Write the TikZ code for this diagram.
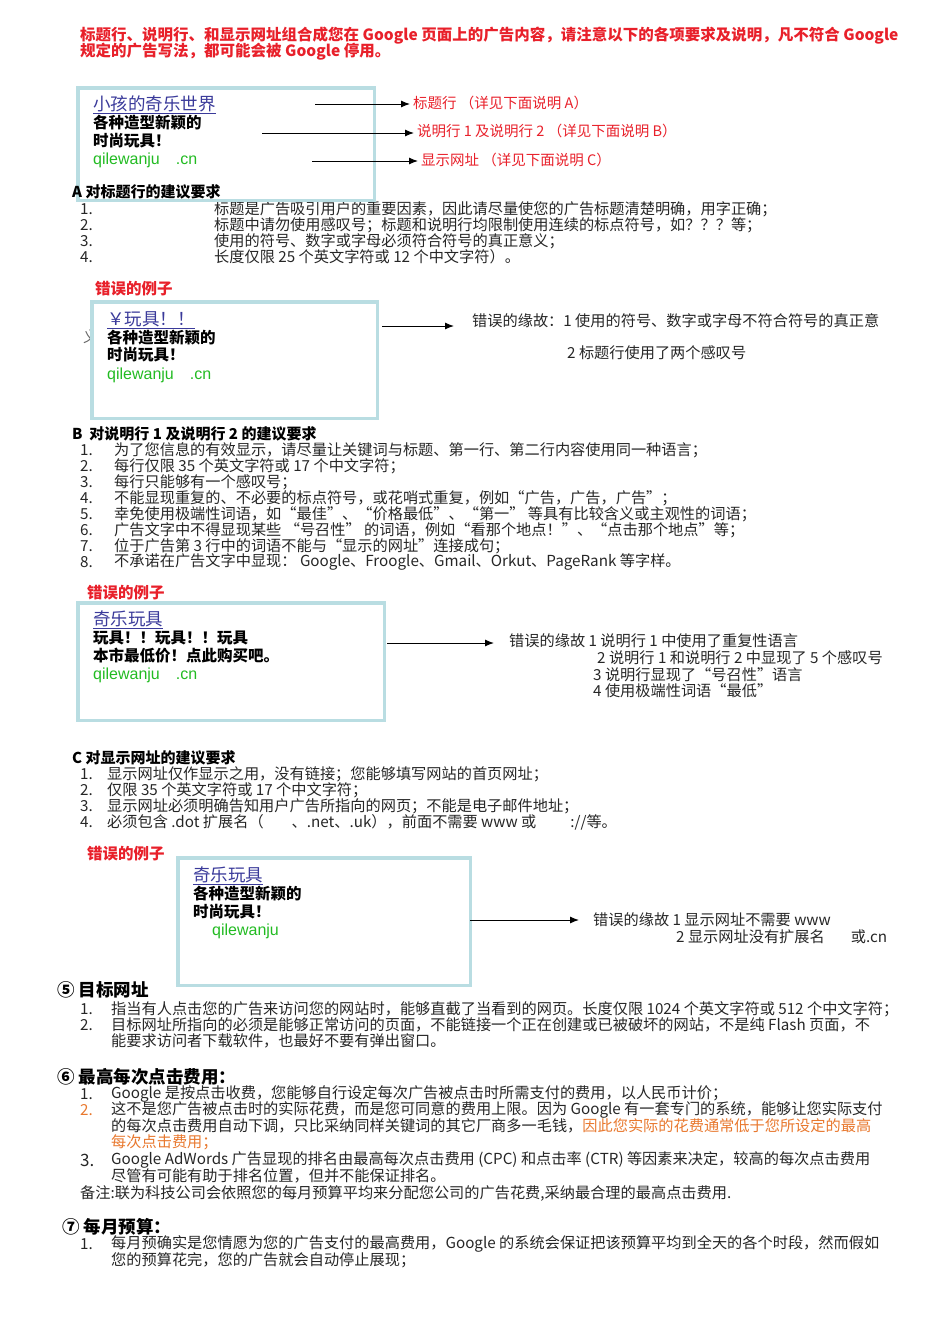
\documentclass[tikz,border=0pt]{standalone}
\usepackage{fontspec}
\usetikzlibrary{arrows.meta}
\setmainfont{Noto Sans CJK SC}
\newfontfamily\lsans{Liberation Sans}
\definecolor{bx}{HTML}{B9DDE2}
\definecolor{rd}{HTML}{E8202A}
\definecolor{og}{HTML}{E8782E}
\definecolor{bl}{HTML}{3A3A9A}
\definecolor{gn}{HTML}{22BB22}
\tikzset{
 t/.style={anchor=west,inner sep=0,text=black!85,font=\fontsize{15.2}{16}\selectfont},
 h/.style={anchor=west,inner sep=0,text=rd,font=\bfseries\fontsize{15.5}{16}\selectfont},
 lab/.style={anchor=west,inner sep=0,text=rd,font=\fontsize{14.5}{16}\selectfont},
 sec/.style={anchor=west,inner sep=0,font=\bfseries\fontsize{15}{16}\selectfont},
 big/.style={anchor=west,inner sep=0,font=\bfseries\fontsize{17.5}{20}\selectfont},
 ttl/.style={anchor=west,inner sep=0,text=bl,font=\fontsize{17.5}{20}\selectfont},
 ln/.style={anchor=west,inner sep=0,font=\bfseries\fontsize{15.5}{18}\selectfont},
 url/.style={anchor=west,inner sep=0,text=gn,font=\lsans\fontsize{16}{18}\selectfont},
 adbox/.style={draw=bx,line width=3.5pt},
 arr/.style={-{Latex[length=9pt,width=7pt]},line width=1pt,shorten >=3pt}
}
\begin{document}
\begin{tikzpicture}[x=1pt,y=-1pt]
\useasboundingbox (0,0) rectangle (950,1344);
\node[h] (h1) at (80,36) {标题行、说明行、和显示网址组合成您在 Google 页面上的广告内容，请注意以下的各项要求及说明，凡不符合 Google};
\node[h] (h2) at (80,52) {规定的广告写法，都可能会被 Google 停用。};
% section A
\node[t] (a1n) at (80,209) {1.}; \node[t] (a1) at (214,209) {标题是广告吸引用户的重要因素，因此请尽量使您的广告标题清楚明确，用字正确；};
\node[t] (a2n) at (80,225) {2.}; \node[t] (a2) at (214,225) {标题中请勿使用感叹号；标题和说明行均限制使用连续的标点符号，如？？？等；};
\node[t] (a3n) at (80,241) {3.}; \node[t] (a3) at (214,241) {使用的符号、数字或字母必须符合符号的真正意义；};
\node[t] (a4n) at (80,257) {4.}; \node[t] (a4) at (214,257) {长度仅限 25 个英文字符或 12 个中文字符）。};
% box 1
\node[minimum width=296pt,minimum height=112pt,anchor=north west,inner sep=0] (b1) at (78,88) {};
\draw[adbox] (b1.north west) rectangle (b1.south east);
\node[sec] (sa) at (72,192) {A 对标题行的建议要求};
\node[ttl] (b1t) at (93,105) {\underline{小孩的奇乐世界}};
\node[ln] (b1a) at (93,123) {各种造型新颖的};
\node[ln] (b1b) at (93,141) {时尚玩具！};
\node[url] (b1u) at (93,160) {qilewanju\quad .cn};
\node[lab] (l1) at (413,103) {标题行 （详见下面说明 A）};
\node[lab] (l2) at (417,131) {说明行 1 及说明行 2 （详见下面说明 B）};
\node[lab] (l3) at (421,160) {显示网址 （详见下面说明 C）};
\coordinate (s1) at (315,104); \coordinate (s2) at (262,133); \coordinate (s3) at (312,161);
\draw[arr] (s1) -- (l1.west|-s1);
\draw[arr] (s2) -- (l2.west|-s2);
\draw[arr] (s3) -- (l3.west|-s3);
% example 1
\node[h] (e1) at (95,289) {错误的例子};
\node[t,text=black!60] (yi) at (83,337) {义};
\node[fill=white,minimum width=285pt,minimum height=116pt,anchor=north west,inner sep=0] (b2) at (92,302) {};
\draw[adbox] (b2.north west) rectangle (b2.south east);
\node[ttl] (b2t) at (107,320) {\underline{￥玩具！！}};
\node[ln] (b2a) at (107,338) {各种造型新颖的};
\node[ln] (b2b) at (107,355) {时尚玩具！};
\node[url] (b2u) at (107,375) {qilewanju\quad .cn};
\node[t] (r1a) at (472,321) {错误的缘故：1 使用的符号、数字或字母不符合符号的真正意};
\node[t] (r1b) at (567,353) {2 标题行使用了两个感叹号};
\coordinate (s4) at (382,326);
\draw[arr] (s4) -- (457,326);
% section B
\node[sec] (sb) at (72,434) {B\ \ 对说明行 1 及说明行 2 的建议要求};
\node[t] (bn1) at (80,450) {1.}; \node[t] (bt1) at (114,450) {为了您信息的有效显示，请尽量让关键词与标题、第一行、第二行内容使用同一种语言；};
\node[t] (bn2) at (80,466) {2.}; \node[t] (bt2) at (114,466) {每行仅限 35 个英文字符或 17 个中文字符；};
\node[t] (bn3) at (80,482) {3.}; \node[t] (bt3) at (114,482) {每行只能够有一个感叹号；};
\node[t] (bn4) at (80,498) {4.}; \node[t] (bt4) at (114,498) {不能显现重复的、不必要的标点符号，或花哨式重复，例如“广告，广告，广告”；};
\node[t] (bn5) at (80,514) {5.}; \node[t] (bt5) at (114,514) {幸免使用极端性词语，如“最佳”、“价格最低”、“第一” 等具有比较含义或主观性的词语；};
\node[t] (bn6) at (80,530) {6.}; \node[t] (bt6) at (114,530) {广告文字中不得显现某些 “号召性” 的词语，例如“看那个地点！”、“点击那个地点”等；};
\node[t] (bn7) at (80,546) {7.}; \node[t] (bt7) at (114,546) {位于广告第 3 行中的词语不能与“显示的网址”连接成句；};
\node[t] (bn8) at (80,562) {8.}; \node[t] (bt8) at (114,562) {不承诺在广告文字中显现： Google、Froogle、Gmail、Orkut、PageRank 等字样。};
% example 2
\node[h] (e2) at (87,593) {错误的例子};
\node[minimum width=306pt,minimum height=117pt,anchor=north west,inner sep=0] (b3) at (78,603) {};
\draw[adbox] (b3.north west) rectangle (b3.south east);
\node[ttl] (b3t) at (93,620) {\underline{奇乐玩具}};
\node[ln] (b3a) at (93,638) {玩具！！玩具！！玩具};
\node[ln] (b3b) at (93,656) {本市最低价！点此购买吧。};
\node[url] (b3u) at (93,675) {qilewanju\quad .cn};
\node[t] (r2a) at (509,641) {错误的缘故 1 说明行 1 中使用了重复性语言};
\node[t] (r2b) at (597,658) {2 说明行 1 和说明行 2 中显现了 5 个感叹号};
\node[t] (r2c) at (593,675) {3 说明行显现了“号召性”语言};
\node[t] (r2d) at (593,691) {4 使用极端性词语“最低”};
\coordinate (s5) at (387,643);
\draw[arr] (s5) -- (497,643);
% section C
\node[sec] (sc) at (72,758) {C 对显示网址的建议要求};
\node[t] (cn1) at (80,774) {1.}; \node[t] (ct1) at (107,774) {显示网址仅作显示之用，没有链接；您能够填写网站的首页网址；};
\node[t] (cn2) at (80,790) {2.}; \node[t] (ct2) at (107,790) {仅限 35 个英文字符或 17 个中文字符；};
\node[t] (cn3) at (80,806) {3.}; \node[t] (ct3) at (107,806) {显示网址必须明确告知用户广告所指向的网页；不能是电子邮件地址；};
\node[t] (cn4) at (80,822) {4.}; \node[t] (ct4) at (107,822) {必须包含 .dot 扩展名（\hspace{28pt}、.net、.uk），前面不需要 www 或\hspace{34pt}://等。};
% example 3
\node[h] (e3) at (87,854) {错误的例子};
\node[minimum width=292pt,minimum height=127pt,anchor=north west,inner sep=0] (b4) at (178,858) {};
\draw[adbox] (b4.north west) rectangle (b4.south east);
\node[ttl] (b4t) at (193,876) {\underline{奇乐玩具}};
\node[ln] (b4a) at (193,894) {各种造型新颖的};
\node[ln] (b4b) at (193,912) {时尚玩具！};
\node[url] (b4u) at (212,931) {qilewanju};
\node[t] (r3a) at (593,920) {错误的缘故 1 显示网址不需要 www};
\node[t] (r3b) at (676,937) {2 显示网址没有扩展名\hspace{26pt}或.cn};
\coordinate (s6) at (470,920);
\draw[arr] (s6) -- (582,920);
% 5
\node[big] (s5h) at (57,990) {⑤ 目标网址};
\node[t] (f1n) at (80,1009) {1.}; \node[t] (f1) at (111,1009) {指当有人点击您的广告来访问您的网站时，能够直截了当看到的网页。长度仅限 1024 个英文字符或 512 个中文字符；};
\node[t] (f2n) at (80,1025) {2.}; \node[t] (f2) at (111,1025) {目标网址所指向的必须是能够正常访问的页面，不能链接一个正在创建或已被破坏的网站，不是纯 Flash 页面，不};
\node[t] (f2b) at (111,1041) {能要求访问者下载软件，也最好不要有弹出窗口。};
% 6
\node[big] (s6h) at (57,1077) {⑥ 最高每次点击费用：};
\node[t] (g1n) at (80,1094) {1.}; \node[t] (g1) at (111,1094) {Google 是按点击收费，您能够自行设定每次广告被点击时所需支付的费用，以人民币计价；};
\node[t,text=og] (g2n) at (80,1110) {2.}; \node[t] (g2) at (111,1110) {这不是您广告被点击时的实际花费，而是您可同意的费用上限。因为 Google 有一套专门的系统，能够让您实际支付};
\node[t] (g2b) at (111,1126) {的每次点击费用自动下调，只比采纳同样关键词的其它厂商多一毛钱，\textcolor{og}{因此您实际的花费通常低于您所设定的最高}};
\node[t,text=og] (g2c) at (111,1142) {每次点击费用；};
\node[t,font=\fontsize{17}{18}\selectfont] (g3n) at (80,1160) {3.}; \node[t] (g3) at (111,1160) {Google AdWords 广告显现的排名由最高每次点击费用 (CPC) 和点击率 (CTR) 等因素来决定，较高的每次点击费用};
\node[t] (g3b) at (111,1176) {尽管有可能有助于排名位置，但并不能保证排名。};
\node[t] (note) at (80,1193) {备注:联为科技公司会依照您的每月预算平均来分配您公司的广告花费,采纳最合理的最高点击费用.};
% 7
\node[big] (s7h) at (62,1227) {⑦ 每月预算：};
\node[t] (m1n) at (80,1244) {1.}; \node[t] (m1) at (111,1244) {每月预确实是您情愿为您的广告支付的最高费用，Google 的系统会保证把该预算平均到全天的各个时段，然而假如};
\node[t] (m1b) at (111,1260) {您的预算花完，您的广告就会自动停止展现；};
\end{tikzpicture}
\end{document}
